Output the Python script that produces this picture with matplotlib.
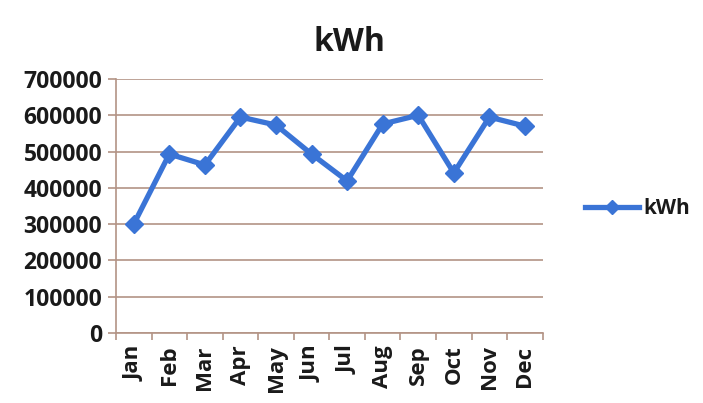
import matplotlib
matplotlib.use('Agg')
import matplotlib.pyplot as plt
import numpy as np

months = ['Jan', 'Feb', 'Mar', 'Apr', 'May', 'Jun', 'Jul', 'Aug', 'Sep', 'Oct', 'Nov', 'Dec']
kwh = [300000, 493000, 463000, 595000, 573000, 493000, 419000, 576000, 600000, 441000, 595000, 570000]
yticks = [0, 100000, 200000, 300000, 400000, 500000, 600000, 700000]

plt.rcParams['font.family'] = ['Open Sans', 'DejaVu Sans']

line_col = '#3a74d6'
grid_col = '#b39485'
text_col = '#1a1a1a'

fig = plt.figure(figsize=(7.03, 4.03), dpi=100)
ax = fig.add_axes([0.165, 0.174, 0.607, 0.630])

x = np.arange(len(months))
ax.plot(x, kwh, color=line_col, lw=3.8, marker='D', ms=9, label='kWh', zorder=3)

ax.set_xlim(-0.5, len(months) - 0.5)
ax.set_ylim(0, 700000)
ax.set_yticks(yticks)
ax.set_yticklabels([str(v) for v in yticks], fontsize=16.5, fontweight='bold', color=text_col)
ax.set_xticks(x)
ax.set_xticklabels(months, rotation=90, fontsize=16, fontweight='bold', color=text_col)
ax.tick_params(axis='x', length=0, pad=9)
ax.set_xticks(np.arange(-0.5, len(months), 1), minor=True)
ax.tick_params(axis='x', which='minor', length=5, color=grid_col, width=1.2)
ax.tick_params(axis='y', length=6, color=grid_col, width=1.2, pad=4)

ax.grid(axis='y', color=grid_col, lw=1.2)
ax.set_axisbelow(True)
for s in ['top', 'right']:
    ax.spines[s].set_visible(False)
for s in ['left', 'bottom']:
    ax.spines[s].set_color(grid_col)
    ax.spines[s].set_linewidth(1.2)

ax.set_title('kWh', fontsize=23, fontweight='bold', pad=20, x=0.548, color=text_col)

leg = ax.legend(loc='center left', bbox_to_anchor=(1.055, 0.49), frameon=False,
                handlelength=2.6, handletextpad=0.2, markerscale=0.8,
                prop={'weight': 'bold', 'size': 15})
for t in leg.get_texts():
    t.set_color(text_col)

fig.savefig('out.png', dpi=100)
